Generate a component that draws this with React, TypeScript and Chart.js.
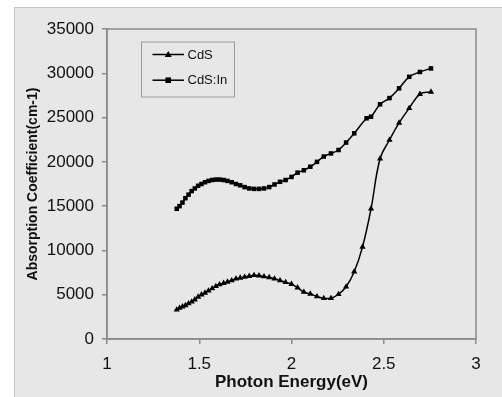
import React, { useEffect, useRef } from "react";
import { Chart, registerables } from "chart.js";

Chart.register(...registerables);

// Photon energies (eV) for each series
const cdsEnergy = [
  1.378, 1.393, 1.409, 1.425, 1.442, 1.459, 1.476, 1.494, 1.512, 1.531,
  1.55, 1.57, 1.59, 1.61, 1.632, 1.653, 1.676, 1.699, 1.722, 1.746,
  1.771, 1.797, 1.824, 1.851, 1.879, 1.908, 1.938, 1.968, 2.0, 2.033,
  2.067, 2.102, 2.138, 2.175, 2.214, 2.255, 2.296, 2.34, 2.385, 2.431,
  2.48, 2.531, 2.583, 2.638, 2.696, 2.756,
];
const cdsValues = [
  3300, 3500, 3650, 3800, 4000, 4200, 4450, 4750, 5000, 5200,
  5450, 5700, 5950, 6150, 6300, 6450, 6600, 6800, 6900, 7000,
  7100, 7200, 7150, 7050, 6950, 6800, 6600, 6400, 6200, 5800,
  5300, 5100, 4800, 4600, 4600, 5050, 5900, 7600, 10400, 14700,
  20350, 22470, 24400, 26050, 27650, 27900,
];

const cdsInEnergy = [
  1.378, 1.393, 1.409, 1.425, 1.442, 1.459, 1.476, 1.494, 1.512, 1.531,
  1.55, 1.57, 1.59, 1.61, 1.632, 1.653, 1.676, 1.699, 1.722, 1.746,
  1.771, 1.797, 1.824, 1.851, 1.879, 1.908, 1.938, 1.968, 2.0, 2.033,
  2.067, 2.102, 2.138, 2.175, 2.214, 2.255, 2.296, 2.34, 2.407, 2.431,
  2.48, 2.531, 2.583, 2.638, 2.696, 2.756,
];
const cdsInValues = [
  14700, 15000, 15400, 15900, 16300, 16700, 17000, 17300, 17500, 17700,
  17850, 17950, 18000, 18000, 17950, 17850, 17700, 17500, 17350, 17150,
  17000, 16950, 16950, 17000, 17150, 17450, 17750, 17950, 18300, 18780,
  19050, 19450, 20000, 20600, 20950, 21340, 22180, 23220, 24920, 25100,
  26500, 27200, 28300, 29600, 30150, 30550,
];

const seriesLabels = ["CdS", "CdS:In"];
const xTickLabels = ["1", "1.5", "2", "2.5", "3"];
const yTickLabels = ["0", "5000", "10000", "15000", "20000", "25000", "30000", "35000"];

const FONT = "'Liberation Sans', Arial, Helvetica, sans-serif";

const backgroundPlugin = {
  id: "bgPlugin",
  beforeDraw(chart: any) {
    const { ctx, width, height, chartArea } = chart;
    ctx.save();
    ctx.fillStyle = "#ffffff";
    ctx.fillRect(0, 0, width, height);
    ctx.fillStyle = "#e7e7e7";
    ctx.fillRect(14, 7, width - 14, height - 7);
    ctx.strokeStyle = "#c4c4c4";
    ctx.lineWidth = 1;
    ctx.beginPath();
    ctx.moveTo(14.5, height);
    ctx.lineTo(14.5, 7.5);
    ctx.lineTo(width, 7.5);
    ctx.stroke();
    ctx.restore();
  },
  beforeDatasetsDraw(chart: any) {
    const { ctx, chartArea } = chart;
    ctx.save();
    ctx.strokeStyle = "#8a8a8a";
    ctx.lineWidth = 1.5;
    ctx.strokeRect(chartArea.left, chartArea.top, chartArea.right - chartArea.left, chartArea.bottom - chartArea.top);
    ctx.restore();
  },
};

const legendPlugin = {
  id: "boxLegend",
  afterDraw(chart: any) {
    const { ctx, chartArea } = chart;
    const bx = chartArea.left + 34;
    const by = chartArea.top + 12.5;
    const bw = 93;
    const bh = 55;
    ctx.save();
    ctx.fillStyle = "#e7e7e7";
    ctx.fillRect(bx, by, bw, bh);
    ctx.strokeStyle = "#9a9a9a";
    ctx.lineWidth = 1;
    ctx.strokeRect(bx + 0.5, by + 0.5, bw, bh);
    chart.data.datasets.forEach((ds: any, i: number) => {
      const y = by + 13 + i * 25.7;
      const x0 = bx + 11.5;
      const x1 = bx + 43;
      ctx.strokeStyle = "#000";
      ctx.lineWidth = 1.5;
      ctx.beginPath();
      ctx.moveTo(x0, y);
      ctx.lineTo(x1, y);
      ctx.stroke();
      ctx.fillStyle = "#000";
      const mx = (x0 + x1) / 2;
      if (ds.pointStyle === "triangle") {
        ctx.beginPath();
        ctx.moveTo(mx, y - 3.5);
        ctx.lineTo(mx + 3.5, y + 2.5);
        ctx.lineTo(mx - 3.5, y + 2.5);
        ctx.closePath();
        ctx.fill();
      } else {
        ctx.fillRect(mx - 2.8, y - 2.8, 5.6, 5.6);
      }
      ctx.font = `13px ${FONT}`;
      ctx.textBaseline = "middle";
      ctx.textAlign = "left";
      ctx.fillStyle = "#111";
      ctx.fillText(ds.label, x1 + 3.5, y + 0.5);
    });
    ctx.restore();
  },
};

export default function App() {
  const canvasRef = useRef<HTMLCanvasElement | null>(null);

  useEffect(() => {
    const canvas = canvasRef.current;
    if (!canvas) return;
    const chart = new Chart(canvas, {
      type: "line",
      data: {
        datasets: [
          {
            label: seriesLabels[0],
            data: cdsEnergy.map((x, i) => ({ x, y: cdsValues[i] })),
            borderColor: "#000",
            backgroundColor: "#000",
            borderWidth: 1.5,
            pointStyle: "triangle",
            pointRadius: 3.6,
            pointBorderWidth: 0,
            pointBackgroundColor: "#000",
            tension: 0.4,
            fill: false,
          },
          {
            label: seriesLabels[1],
            data: cdsInEnergy.map((x, i) => ({ x, y: cdsInValues[i] })),
            borderColor: "#000",
            backgroundColor: "#000",
            borderWidth: 1.5,
            pointStyle: "rect",
            pointRadius: 3.2,
            pointBorderWidth: 0,
            pointBackgroundColor: "#000",
            tension: 0.4,
            fill: false,
          },
        ],
      },
      options: {
        responsive: false,
        animation: false,
        layout: { padding: { left: 14, top: 29, right: 26, bottom: 0 } },
        plugins: {
          legend: { display: false },
          tooltip: { enabled: false },
          title: { display: false },
        },
        scales: {
          x: {
            type: "linear",
            min: 1,
            max: 3,
            ticks: {
              stepSize: 0.5,
              padding: 10.5,
              color: "#111",
              font: { size: 17, family: FONT },
              maxRotation: 0,
              callback: (v: any, i: number) => xTickLabels[i] ?? String(v),
            },
            grid: {
              drawOnChartArea: false,
              drawTicks: true,
              tickLength: 5,
              color: "#8a8a8a",
              lineWidth: 1.5,
            },
            border: { display: true, color: "#8a8a8a", width: 1.5 },
            title: {
              display: true,
              text: "Photon Energy(eV)",
              color: "#111",
              font: { size: 17, weight: "bold", family: FONT },
              padding: { top: 0, bottom: 4.3 },
            },
            afterFit: (scale: any) => {
              scale.height = 58;
            },
          },
          y: {
            type: "linear",
            min: 0,
            max: 35000,
            ticks: {
              stepSize: 5000,
              padding: 8,
              color: "#111",
              font: { size: 17, family: FONT },
              callback: (v: any, i: number) => yTickLabels[i] ?? String(v),
            },
            grid: {
              drawOnChartArea: false,
              drawTicks: true,
              tickLength: 5,
              color: "#8a8a8a",
              lineWidth: 1.5,
            },
            border: { display: true, color: "#8a8a8a", width: 1.5 },
            title: {
              display: true,
              text: "Absorption Coefficient(cm-1)",
              color: "#111",
              font: { size: 14, weight: "bold", family: FONT },
              padding: { top: 10.6, bottom: 0 },
            },
            afterFit: (scale: any) => {
              scale.width = 93;
            },
          },
        },
      },
      plugins: [backgroundPlugin, legendPlugin],
    } as any);
    return () => chart.destroy();
  }, []);

  return (
    <div style={{ position: "absolute", left: 0, top: 0, width: 502, height: 397 }}>
      <canvas ref={canvasRef} width={502} height={397} style={{ display: "block", width: 502, height: 397 }} />
    </div>
  );
}
